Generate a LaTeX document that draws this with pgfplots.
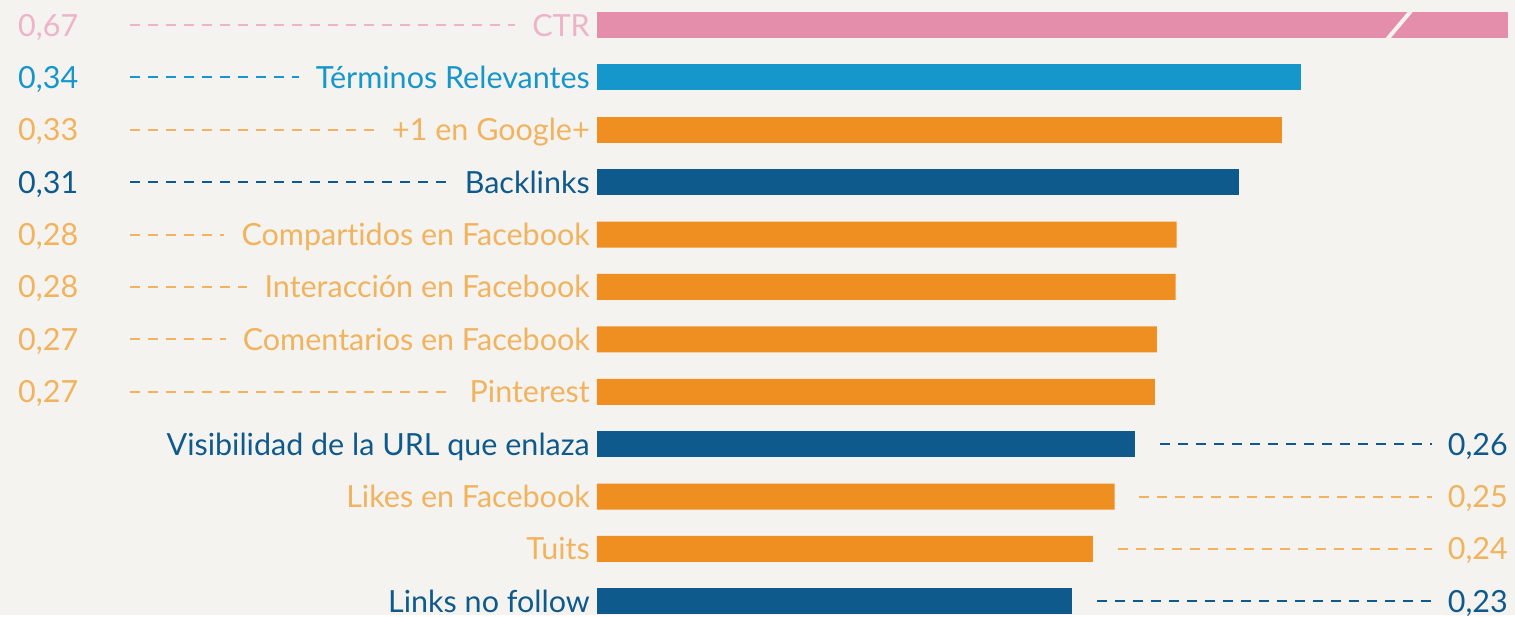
\documentclass[border=0pt]{standalone}
\usepackage{pgfplots}
\pgfplotsset{compat=1.18}
\usepackage{fontspec}
\setmainfont{Lato}[Ligatures=NoCommon]
\definecolor{bg}{HTML}{F5F3EF}
\definecolor{pinkbar}{HTML}{E58EAB}
\definecolor{pinktxt}{HTML}{EDB3C7}
\definecolor{lblue}{HTML}{1597CC}
\definecolor{dblue}{HTML}{0F5A8C}
\definecolor{obar}{HTML}{EF8F22}
\definecolor{otxt}{HTML}{F1B35E}
% left-side row: index, value text, label, colour, name
\newcommand{\leftrow}[5]{%
  \node[anchor=base east, text=#4, inner sep=0pt] (#5) at (axis cs:-0.0034,#1+0.21) {#3};
  \node[anchor=base west, text=#4, inner sep=0pt] at (axis cs:-0.2797,#1+0.21) {#2};
  \draw[#4, line width=2pt, dash pattern=on 10pt off 8pt] (axis cs:-0.2256,#1) -- ([xshift=-17pt]#5.west |- {axis cs:0,#1});
}
% right-side row: index, value text, label, colour, bar value
\newcommand{\rightrow}[5]{%
  \node[anchor=base east, text=#4, inner sep=0pt] at (axis cs:-0.0034,#1+0.21) {#3};
  \node[anchor=base east, text=#4, inner sep=0pt] at (axis cs:0.4401,#1+0.21) {#2};
  \draw[#4, line width=2pt, dash pattern=on 10pt off 8pt] (axis cs:#5+0.012,#1) -- (axis cs:0.4034,#1);
}
\begin{document}
\begin{tikzpicture}
\fill[bg] (0,0) rectangle (1515pt,615pt);
\begin{axis}[
  scale only axis, width=1515pt, height=615pt,
  xmin=-0.2884, xmax=0.4435, ymin=-0.477, ymax=11.26,
  y dir=reverse, axis lines=none, clip=false,
  xbar, bar width=26pt, bar shift=0pt,
  every axis plot/.append style={draw=none},
  font=\fontsize{30.5}{34}\selectfont,
]
\addplot[fill=pinkbar] coordinates {(0.44,0)};
\addplot[fill=lblue] coordinates {(0.34,1)};
\addplot[fill=obar] coordinates {(0.331,2)};
\addplot[fill=dblue] coordinates {(0.31,3)};
\addplot[fill=obar] coordinates {(0.28,4) (0.2795,5) (0.2705,6) (0.2695,7)};
\addplot[fill=dblue] coordinates {(0.26,8)};
\addplot[fill=obar] coordinates {(0.25,9) (0.2395,10)};
\addplot[fill=dblue] coordinates {(0.2295,11)};
% break mark on the CTR bar
\draw[bg, line width=4pt] (axis cs:0.3937,-0.29) -- (axis cs:0.3807,0.32);
\leftrow{0}{0,67}{CTR}{pinktxt}{la}
\leftrow{1}{0,34}{Términos Relevantes}{lblue}{lb}
\leftrow{2}{0,33}{+1 en Google+}{otxt}{lc}
\leftrow{3}{0,31}{Backlinks}{dblue}{ld}
\leftrow{4}{0,28}{Compartidos en Facebook}{otxt}{le}
\leftrow{5}{0,28}{Interacción en Facebook}{otxt}{lf}
\leftrow{6}{0,27}{Comentarios en Facebook}{otxt}{lg}
\leftrow{7}{0,27}{Pinterest}{otxt}{lh}
\rightrow{8}{0,26}{Visibilidad de la URL que enlaza}{dblue}{0.26}
\rightrow{9}{0,25}{Likes en Facebook}{otxt}{0.25}
\rightrow{10}{0,24}{Tuits}{otxt}{0.2395}
\rightrow{11}{0,23}{Links no follow}{dblue}{0.2295}
\end{axis}
\end{tikzpicture}
\end{document}
